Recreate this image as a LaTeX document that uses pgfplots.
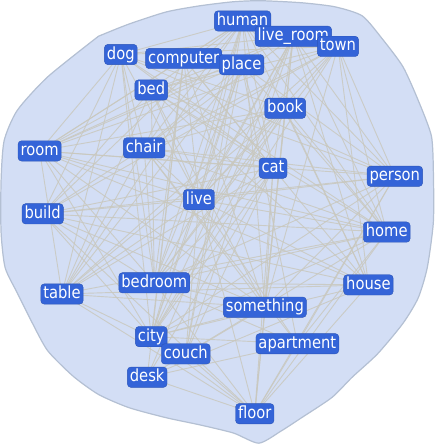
\documentclass[border=0pt]{standalone}
\usepackage{pgfplots}
\pgfplotsset{compat=1.18}
\usepackage{pgfplotstable}
\usepackage{fontspec}
\setmainfont{DejaVu Sans}
\newfontfamily\labfont[FakeStretch=0.88]{DejaVu Sans}

\definecolor{blobfill}{HTML}{D3DEF5}
\definecolor{blobline}{HTML}{B4C0D3}
\definecolor{edgecol}{HTML}{C9C8BE}
\definecolor{nodeblue}{HTML}{3464D8}

% node positions (pixels, y downwards)
\pgfplotstableread{
x y label
122 55 dog
184 59 computer
241 65 place
242 22 human
292 37 live\_room
336 47 town
152 90 bed
284 108 book
42 150 room
145 147 chair
272 167 cat
392 175 person
199 198 live
45 212 build
384 230 home
155 280 bedroom
366 282 house
64 291 table
264 304 something
152 333 city
186 350 couch
296 340 apartment
148 373 desk
254 409 floor
}\nodetab

% edges: from (x1,y1) to (x2,y2)
\pgfplotstableread{
x1 y1 x2 y2
242 22 122 55
242 22 184 59
242 22 152 90
242 22 42 150
242 22 145 147
242 22 272 167
242 22 392 175
242 22 199 198
242 22 45 212
242 22 155 280
242 22 152 333
242 22 264 304
242 22 64 291
242 22 366 282
242 22 384 230
242 22 186 350
292 37 122 55
292 37 152 90
292 37 145 147
292 37 42 150
292 37 272 167
292 37 199 198
292 37 155 280
292 37 152 333
292 37 186 350
292 37 148 373
292 37 264 304
292 37 366 282
292 37 384 230
292 37 392 175
292 37 284 108
336 47 122 55
336 47 152 90
336 47 145 147
336 47 42 150
336 47 199 198
336 47 45 212
336 47 155 280
336 47 366 282
336 47 384 230
336 47 392 175
336 47 152 333
336 47 64 291
336 47 264 304
122 55 145 147
122 55 42 150
122 55 45 212
122 55 272 167
122 55 199 198
122 55 284 108
122 55 155 280
122 55 64 291
122 55 152 333
122 55 392 175
122 55 384 230
184 59 145 147
184 59 42 150
184 59 199 198
184 59 155 280
184 59 152 333
184 59 148 373
184 59 272 167
184 59 366 282
184 59 264 304
241 65 152 90
241 65 145 147
241 65 42 150
241 65 272 167
241 65 199 198
241 65 155 280
241 65 152 333
241 65 186 350
241 65 64 291
241 65 384 230
241 65 392 175
241 65 296 340
152 90 42 150
152 90 272 167
152 90 199 198
152 90 45 212
152 90 155 280
152 90 64 291
152 90 264 304
152 90 366 282
152 90 392 175
152 90 384 230
284 108 42 150
284 108 145 147
284 108 199 198
284 108 155 280
284 108 64 291
284 108 152 333
284 108 264 304
284 108 366 282
284 108 384 230
284 108 254 409
42 150 272 167
42 150 199 198
42 150 155 280
42 150 384 230
42 150 392 175
42 150 264 304
42 150 64 291
42 150 152 333
42 150 366 282
145 147 272 167
145 147 199 198
145 147 45 212
145 147 64 291
145 147 155 280
145 147 264 304
145 147 296 340
145 147 384 230
145 147 392 175
272 167 45 212
272 167 155 280
272 167 64 291
272 167 152 333
272 167 186 350
272 167 148 373
272 167 264 304
272 167 254 409
392 175 199 198
392 175 45 212
392 175 155 280
392 175 152 333
392 175 264 304
392 175 296 340
392 175 254 409
199 198 45 212
199 198 384 230
199 198 366 282
199 198 64 291
199 198 152 333
199 198 186 350
199 198 296 340
199 198 254 409
45 212 384 230
45 212 155 280
45 212 264 304
45 212 366 282
45 212 152 333
45 212 254 409
384 230 155 280
384 230 64 291
384 230 152 333
384 230 296 340
384 230 254 409
384 230 186 350
155 280 366 282
155 280 264 304
155 280 296 340
155 280 254 409
366 282 64 291
366 282 152 333
366 282 254 409
366 282 148 373
64 291 264 304
64 291 254 409
64 291 186 350
264 304 152 333
264 304 148 373
264 304 254 409
152 333 296 340
152 333 254 409
186 350 254 409
296 340 254 409
296 340 148 373
148 373 254 409
}\edgetab

\begin{document}
\begin{tikzpicture}
\begin{axis}[
    width=432bp, height=444bp,
    scale only axis,
    hide axis,
    xmin=0, xmax=432,
    ymin=0, ymax=444,
    y dir=reverse,
    clip=false,
]

% background blob
\addplot[fill=blobfill, draw=blobline, line width=1.2bp, smooth, tension=0.4] coordinates {
    (100,37) (50,77) (20,110) (7,140) (4,180) (4,230) (8,265) (20,290)
    (35,320) (50,347) (75,372) (100,390) (130,403) (167,413) (200,420)
    (233,428) (258,438) (280,426) (300,413) (330,393) (350,373) (375,350)
    (400,320) (415,295) (424,265) (430,220) (430,170) (428,135) (415,100)
    (400,67) (380,40) (360,17) (333,8) (300,4) (260,2) (233,3) (200,7)
    (167,13) (130,25) (100,37)
};

% edges
\addplot[draw=edgecol, line width=0.9bp, opacity=0.85, -,
    quiver={u=\thisrow{x2}-\thisrow{x1}, v=\thisrow{y2}-\thisrow{y1}}]
    table[x=x1, y=y1] {\edgetab};

% labelled nodes
\addplot[draw=none, mark=none,
    nodes near coords,
    point meta=explicit symbolic,
    nodes near coords style={anchor=center, fill=nodeblue,
        draw=nodeblue!85!black, line width=0.4bp,
        rounded corners=3.5bp, text=white,
        font=\labfont\fontsize{16.5bp}{18bp}\selectfont,
        inner xsep=2.5bp, inner ysep=2bp,
        text height=12.5bp, text depth=3.5bp}]
    table[x=x, y=y, meta=label] {\nodetab};

\end{axis}
\end{tikzpicture}
\end{document}
